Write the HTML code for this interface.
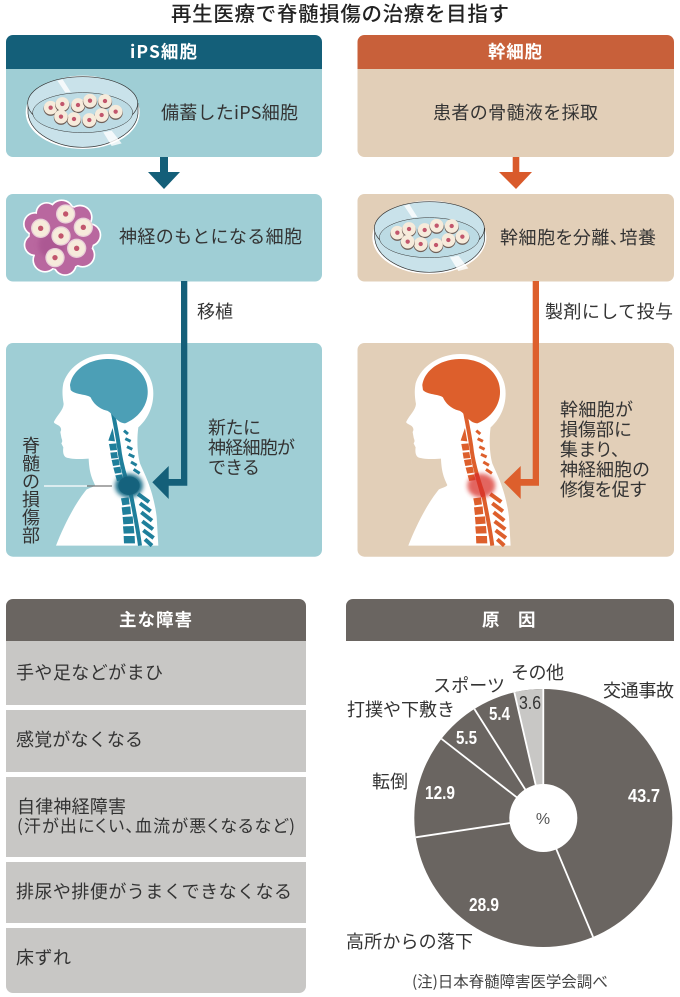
<!DOCTYPE html>
<html lang="ja">
<head>
<meta charset="utf-8">
<title>再生医療で脊髄損傷の治療を目指す</title>
<style>
html,body{margin:0;padding:0;background:#fff;width:680px;height:997px;overflow:hidden}
svg{display:block}
text{font-family:"Liberation Sans","Noto Sans CJK JP",sans-serif;fill:#333;font-size:18px}
.t{font-family:"Noto Sans CJK JP","Liberation Sans",sans-serif}
.p{font-feature-settings:"palt"}
.h{fill:#fff;font-weight:700;font-size:17.5px}
.v{fill:#fff;font-weight:700;font-size:18.5px}
</style>
</head>
<body>
<svg xmlns="http://www.w3.org/2000/svg" width="680" height="997" viewBox="0 0 680 997">
<defs>
<filter id="b1" x="-40%" y="-40%" width="180%" height="180%"><feGaussianBlur stdDeviation="6"/></filter>
<g id="cell"><circle cx="0" cy="3" r="21.5" fill="#6f5f58"/><circle r="20.5" fill="#f6ebdb"/><circle r="6.5" fill="#c2566c"/></g>
<g id="cell2"><circle r="29" fill="#e9cfd8"/><circle r="25" fill="#f6ebdb"/><circle r="8" fill="#c2566c"/></g>
<g id="dish">
<ellipse cx="248" cy="337" rx="171" ry="110" fill="#fff"/>
<path d="M84,310 L84,340 C90,400 170,442 248,442 C326,442 410,400 414,340 L414,310 Z" fill="#c9e2ea" stroke="#333" stroke-width="2"/>
<ellipse cx="248" cy="310" rx="165" ry="80" fill="#c9e2ea" stroke="#333" stroke-width="2"/>
<ellipse cx="248" cy="338" rx="150" ry="60" fill="#bcdbe4" stroke="#333" stroke-width="1.5"/>
<path d="M172,242 L188,238 L212,276 L196,278 Z M310,397 L335,392 L365,430 L335,438 Z" fill="#fff" opacity=".8"/>
<use href="#cell" x="152" y="323"/><use href="#cell" x="187" y="312"/><use href="#cell" x="234" y="315"/><use href="#cell" x="270" y="302"/><use href="#cell" x="315" y="303"/><use href="#cell" x="347" y="335"/><use href="#cell" x="305" y="345"/><use href="#cell" x="268" y="360"/><use href="#cell" x="222" y="357"/><use href="#cell" x="183" y="350"/>
</g>
<g id="head">
<path fill="#fff" d="M168,617 C190,560 225,490 260,448 C272,443 284,440 285,435 C276,415 268,400 266,356 C245,358 215,358 198,352 C190,348 188,335 190,322 L184,310 C190,302 184,296 184,292 L181,276 C186,268 182,262 178,258 C170,252 160,250 162,245 C172,225 190,210 191,192 C187,170 186,150 190,130 C205,80 260,42 325,42 C400,42 460,90 460,160 C460,205 440,240 415,262 C410,300 412,340 420,370 C435,405 460,450 470,530 L475,617 Z"/>
<path fill="none" stroke="var(--s)" stroke-width="12" d="M338,215 C345,250 352,285 357,320 C362,370 378,420 392,460 C402,510 414,570 420,617"/>
<path fill="var(--b)" d="M210,135 C215,100 250,60 320,57 C390,55 440,95 443,150 C446,190 420,232 375,250 C350,250 335,215 320,212 C295,205 280,190 272,172 C260,162 225,165 212,150 Z"/>
<g fill="var(--s)">
<path d="M325,302 L338,264 L345,304 Z"/>
<path d="M327,312 L349,310 L351,330 L331,332 Z"/>
<path d="M331,338 L351,336 L354,354 L334,356 Z"/>
<path d="M335,360 L356,357 L359,375 L339,378 Z"/>
<path d="M340,383 L361,380 L365,398 L345,401 Z"/>
<path d="M346,406 L366,403 L370,420 L351,423 Z"/>
<path d="M363,475 L386,472 L389,493 L367,496 Z"/>
<path d="M365,502 L391,499 L393,522 L368,525 Z"/>
<path d="M368,531 L398,529 L400,551 L370,553 Z"/>
<path d="M369,559 L401,558 L403,580 L371,581 Z"/>
<path d="M371,588 L404,588 L405,610 L372,610 Z"/>
</g>
<g fill="none" stroke="var(--s)" stroke-width="9">
<path d="M372,272 L384,282"/><path d="M376,296 L392,304"/><path d="M381,320 L397,328"/><path d="M386,343 L403,351"/><path d="M393,366 L410,376"/><path d="M401,388 L419,400"/>
</g>
<g fill="none" stroke="var(--s)" stroke-width="12">
<path d="M414,462 L447,486"/><path d="M420,490 L452,514"/><path d="M424,517 L456,542"/><path d="M427,544 L459,568"/><path d="M430,571 L461,594"/><path d="M435,598 L456,617"/>
</g>
</g>
</defs>

<text class="t" x="171" y="21" font-weight="500" style="font-size:20.5px;fill:#222" textLength="338">再生医療で脊髄損傷の治療を目指す</text>

<!-- Left column -->
<path d="M6,69 V42 a7,7 0 0 1 7,-7 H315 a7,7 0 0 1 7,7 V69 Z" fill="#145f79"/>
<path d="M6,69 H322 V150 a7,7 0 0 1 -7,7 H13 a7,7 0 0 1 -7,-7 Z" fill="#9fced5"/>
<text class="h t" x="130" y="58" textLength="67">iPS細胞</text>
<g transform="scale(.3333)"><use href="#dish"/></g>
<text class="t" x="161" y="119" textLength="137">備蓄したiPS細胞</text>
<path d="M160,157 H168 V172 H180 L164,189 L148,172 H160 Z" fill="#145f79"/>
<rect x="6" y="194" width="316" height="87.5" rx="7" fill="#9fced5"/>

<g transform="scale(.3333)">
<g fill="#fff">
<circle cx="185" cy="712" r="100"/><circle cx="185" cy="636" r="38"/><circle cx="240" cy="652" r="38"/><circle cx="268" cy="705" r="36"/><circle cx="248" cy="765" r="38"/><circle cx="195" cy="792" r="36"/><circle cx="135" cy="780" r="38"/><circle cx="105" cy="735" r="34"/><circle cx="105" cy="672" r="36"/><circle cx="140" cy="640" r="34"/>
</g>
<g fill="#b9679f">
<circle cx="185" cy="712" r="96"/><circle cx="185" cy="636" r="33"/><circle cx="240" cy="652" r="33"/><circle cx="268" cy="705" r="31"/><circle cx="248" cy="765" r="33"/><circle cx="195" cy="792" r="31"/><circle cx="135" cy="780" r="33"/><circle cx="105" cy="735" r="29"/><circle cx="105" cy="672" r="31"/><circle cx="140" cy="640" r="29"/>
</g>
<circle cx="155" cy="735" r="40" fill="#a5508c" opacity=".6" filter="url(#b1)"/>
<use href="#cell2" x="197" y="642"/><use href="#cell2" x="250" y="682"/><use href="#cell2" x="122" y="685"/><use href="#cell2" x="183" y="708"/><use href="#cell2" x="230" y="745"/><use href="#cell2" x="165" y="773"/>
</g>
<text class="t" x="119" y="243" textLength="183">神経のもとになる細胞</text>
<text class="t" x="197" y="318" textLength="36">移植</text>
<rect x="6" y="343" width="316" height="213.7" rx="7" fill="#9fced5"/>
<g transform="translate(0,340) scale(.3333)" style="--s:#1f7f9b;--b:#4c9fb6"><use href="#head"/>
<ellipse cx="387" cy="437" rx="42" ry="36" fill="#1a6f8a" filter="url(#b1)"/>
<ellipse cx="387" cy="437" rx="32" ry="28" fill="#145f79" opacity=".8"/>
</g>
<path d="M44,486 H87" stroke="#fff" stroke-width="1.3"/>
<path d="M87,486 H112" stroke="#777" stroke-width="1.3"/>
<path d="M181,281 H187.3 V485.7 H168.7 V499 L152.3,482.3 L168.7,466 V479 H181 Z" fill="#145f79"/>
<text class="t" x="208" y="434" textLength="53">新たに</text>
<text class="t" x="208" y="454" textLength="87">神経細胞が</text>
<text class="t" x="208" y="474" textLength="52">できる</text>
<text class="t" x="31" y="452" text-anchor="middle">脊</text>
<text class="t" x="31" y="470" text-anchor="middle">髄</text>
<text class="t" x="31" y="488" text-anchor="middle">の</text>
<text class="t" x="31" y="506" text-anchor="middle">損</text>
<text class="t" x="31" y="524" text-anchor="middle">傷</text>
<text class="t" x="31" y="542" text-anchor="middle">部</text>

<!-- Right column -->
<path d="M357.5,69 V42 a7,7 0 0 1 7,-7 H667 a7,7 0 0 1 7,7 V69 Z" fill="#c8603a"/>
<path d="M357.5,69 H674 V150 a7,7 0 0 1 -7,7 H364.5 a7,7 0 0 1 -7,-7 Z" fill="#e2cfb8"/>
<text class="h t" x="488" y="58" textLength="54">幹細胞</text>
<text class="t" x="433" y="119" textLength="165">患者の骨髄液を採取</text>
<path d="M512.7,157 H519.3 V172 H532 L516,189 L499,172 H512.7 Z" fill="#d95a2b"/>
<rect x="357.5" y="194" width="316.5" height="87.5" rx="7" fill="#e2cfb8"/>
<g transform="translate(346.7,125) scale(.3333)"><use href="#dish"/></g>
<text class="t p" x="500" y="244" textLength="156">幹細胞を分離、培養</text>
<text class="t" x="545" y="318" textLength="128">製剤にして投与</text>
<rect x="357.5" y="343" width="316.5" height="213.7" rx="7" fill="#e2cfb8"/>
<g transform="translate(352.3,340) scale(.3333)" style="--s:#dd5f2c;--b:#dd5f2c"><use href="#head"/>
<ellipse cx="387" cy="437" rx="42" ry="36" fill="#d9302a" filter="url(#b1)" opacity=".75"/>
<path fill="none" stroke="#d9382a" stroke-width="12" d="M372,400 C378,420 385,445 392,470"/>
</g>
<path d="M532.7,281 H539 V485.7 H520.7 V499 L504,482.3 L520.7,466 V479 H532.7 Z" fill="#dd5f2c"/>
<text class="t" x="560" y="416" textLength="73">幹細胞が</text>
<text class="t" x="560" y="436" textLength="72">損傷部に</text>
<text class="t p" x="560" y="456" textLength="60">集まり、</text>
<text class="t" x="560" y="476" textLength="90">神経細胞の</text>
<text class="t" x="560" y="496" textLength="87">修復を促す</text>

<!-- Bottom left -->
<path d="M6,641 V606 a7,7 0 0 1 7,-7 H299 a7,7 0 0 1 7,7 V641 Z" fill="#6a6561"/>
<text class="h t" x="119" y="626" textLength="73">主な障害</text>
<rect x="6" y="641" width="300" height="64" fill="#c8c7c5"/>
<rect x="6" y="710" width="300" height="62" fill="#c8c7c5"/>
<rect x="6" y="777" width="300" height="80" fill="#c8c7c5"/>
<rect x="6" y="862" width="300" height="61" fill="#c8c7c5"/>
<path d="M6,928 H306 V986 a7,7 0 0 1 -7,7 H13 a7,7 0 0 1 -7,-7 Z" fill="#c8c7c5"/>
<text class="t" x="16" y="679" textLength="147">手や足などがまひ</text>
<text class="t" x="16" y="746" textLength="127">感覚がなくなる</text>
<text class="t" x="17" y="813" textLength="109">自律神経障害</text>
<text class="t p" x="17" y="832" textLength="278" style="font-size:17px">(汗が出にくい、血流が悪くなるなど)</text>
<text class="t" x="16" y="898" textLength="276">排尿や排便がうまくできなくなる</text>
<text class="t" x="16" y="964" textLength="55">床ずれ</text>

<!-- Bottom right -->
<path d="M346,641 V606 a7,7 0 0 1 7,-7 H667 a7,7 0 0 1 7,7 V641 Z" fill="#6a6561"/>
<text class="h t" x="482" y="626">原</text>
<text class="h t" x="518" y="626">因</text>

<circle cx="543.3" cy="818" r="129" fill="#6a6561"/>
<path d="M543.3,818 L543.3,689 A129,129 0 0 0 514.3,692.3 Z" fill="#c8c7c5"/>
<g stroke="#fff" stroke-width="1.8" fill="none">
<path d="M543.3,818 V689"/>
<path d="M543.3,818 L593.1,937"/>
<path d="M543.3,818 L415.7,837.3"/>
<path d="M543.3,818 L441.5,738.8"/>
<path d="M543.3,818 L474.4,709"/>
<path d="M543.3,818 L514.3,692.3"/>
</g>
<circle cx="543.3" cy="818" r="34" fill="#fff"/>
<text x="543" y="824" text-anchor="middle" style="font-size:16px;fill:#555">%</text>
<text class="v" x="628" y="802" textLength="32" lengthAdjust="spacingAndGlyphs">43.7</text>
<text class="v" x="469" y="911" textLength="30" lengthAdjust="spacingAndGlyphs">28.9</text>
<text class="v" x="425" y="799" textLength="30" lengthAdjust="spacingAndGlyphs">12.9</text>
<text class="v" x="456" y="744" textLength="21" lengthAdjust="spacingAndGlyphs">5.5</text>
<text class="v" x="489" y="720" textLength="21" lengthAdjust="spacingAndGlyphs">5.4</text>
<text x="519" y="709" textLength="22" lengthAdjust="spacingAndGlyphs" style="font-size:18.5px;fill:#333">3.6</text>

<text class="t" x="511" y="679" textLength="53">その他</text>
<text class="t" x="433" y="692" textLength="72">スポーツ</text>
<text class="t" x="603" y="697" textLength="71">交通事故</text>
<text class="t" x="347" y="716" textLength="108">打撲や下敷き</text>
<text class="t" x="372" y="788" textLength="36">転倒</text>
<text class="t" x="346" y="948" textLength="127">高所からの落下</text>
<text class="t p" x="412" y="987" textLength="196" style="font-size:15.5px;fill:#444">(注)日本脊髄障害医学会調べ</text>
</svg>
</body>
</html>
